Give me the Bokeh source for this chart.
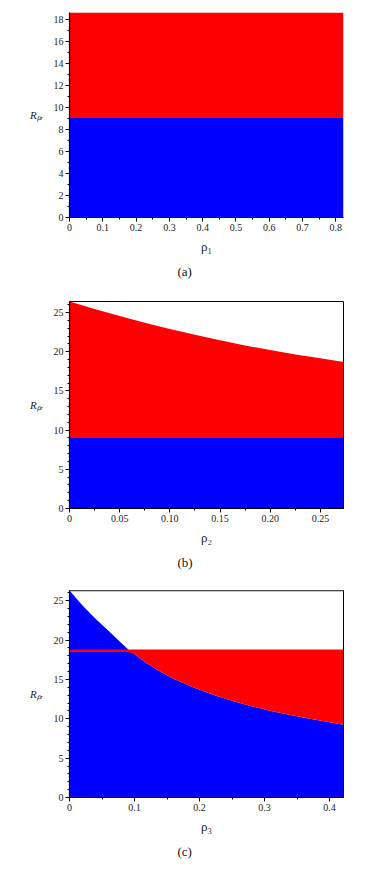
import numpy as np
from bokeh.plotting import figure
from bokeh.models import Range1d, FixedTicker, Span, Title
from bokeh.layouts import column
from bokeh.embed import file_html
from bokeh.resources import INLINE

SERIF = "Liberation Serif"
RED = "#ff0000"
BLUE = "#0000ff"

# ---------------- data ----------------
# panel (a)
a_rho = [0.0, 0.823]
a_blue_top = [9.05, 9.05]
a_red_top = [18.65, 18.65]
a_xticks = [0, 0.1, 0.2, 0.3, 0.4, 0.5, 0.6, 0.7, 0.8]
a_xlabels = ["0", "0.1", "0.2", "0.3", "0.4", "0.5", "0.6", "0.7", "0.8"]
a_yticks = [0, 2, 4, 6, 8, 10, 12, 14, 16, 18]
a_ylabels = ["0", "2", "4", "6", "8", "10", "12", "14", "16", "18"]

# panel (b)
b_rho = [0.0, 0.025, 0.05, 0.075, 0.10, 0.125, 0.15, 0.175, 0.20, 0.225, 0.25, 0.273]
b_red_top = [26.4, 25.45, 24.55, 23.7, 22.9, 22.15, 21.45, 20.8, 20.2, 19.65, 19.15, 18.7]
b_blue_top = [9.1] * len(b_rho)
b_xticks = [0, 0.05, 0.10, 0.15, 0.20, 0.25]
b_xlabels = ["0", "0.05", "0.10", "0.15", "0.20", "0.25"]
b_yticks = [0, 5, 10, 15, 20, 25]
b_ylabels = ["0", "5", "10", "15", "20", "25"]

# panel (c)
c_rho = [0.0, 0.02, 0.04, 0.06, 0.08, 0.09, 0.10, 0.12, 0.14, 0.16, 0.19,
         0.22, 0.25, 0.28, 0.31, 0.34, 0.37, 0.40, 0.421]
c_blue_top = [26.3, 24.4, 22.7, 21.2, 19.6, 18.85, 18.2, 17.0, 15.97, 15.1, 14.0,
              13.1, 12.3, 11.6, 11.0, 10.47, 10.0, 9.55, 9.24]
c_red_top = 18.8
c_red_band_bottom = 18.5
c_xticks = [0, 0.1, 0.2, 0.3, 0.4]
c_xlabels = ["0", "0.1", "0.2", "0.3", "0.4"]
c_yticks = [0, 5, 10, 15, 20, 25]
c_ylabels = ["0", "5", "10", "15", "20", "25"]

y_label = "Rₚᵣ"


def make_panel(xr, yr, xticks, xlabels, xminor, yticks, ylabels, yminor,
               xlab, caption, height, top, bottom, outline):
    p = figure(width=388, height=height, x_range=Range1d(*xr), y_range=Range1d(*yr),
               output_backend="svg", toolbar_location=None,
               min_border_left=69, min_border_right=45,
               min_border_top=top, min_border_bottom=bottom)
    p.grid.visible = False
    p.background_fill_color = "white"
    p.border_fill_color = "white"
    p.outline_line_color = outline
    p.outline_line_width = 1

    p.xaxis.ticker = FixedTicker(ticks=xticks, minor_ticks=xminor)
    p.yaxis.ticker = FixedTicker(ticks=yticks, minor_ticks=yminor)
    p.xaxis.major_label_overrides = {t: l for t, l in zip(xticks, xlabels)}
    p.yaxis.major_label_overrides = {t: l for t, l in zip(yticks, ylabels)}
    for ax in (p.xaxis, p.yaxis):
        ax.axis_line_color = "black"
        ax.axis_line_width = 1.2
        ax.major_tick_line_color = "black"
        ax.minor_tick_line_color = "black"
        ax.major_tick_in = 0
        ax.major_tick_out = 4
        ax.minor_tick_in = 0
        ax.minor_tick_out = 2
        ax.major_label_text_font = SERIF
        ax.major_label_text_font_size = "10px"
        ax.major_label_text_color = "#222222"
        ax.major_label_standoff = 2
    p.xaxis.axis_label = xlab
    p.xaxis.axis_label_text_font = SERIF
    p.xaxis.axis_label_text_font_size = "13px"
    p.xaxis.axis_label_text_font_style = "normal"
    p.xaxis.axis_label_text_color = "#222222"
    p.xaxis.axis_label_standoff = 5

    p.yaxis.axis_label = y_label
    p.yaxis.axis_label_orientation = "horizontal"
    p.yaxis.axis_label_text_font = SERIF
    p.yaxis.axis_label_text_font_size = "11px"
    p.yaxis.axis_label_text_font_style = "italic"
    p.yaxis.axis_label_text_color = "#222222"
    p.yaxis.axis_label_standoff = 7

    p.add_layout(Title(text=caption, text_font=SERIF, text_font_size="13px",
                       text_font_style="normal", text_color="#111111",
                       align="left", offset=108, standoff=11), "below")
    return p


# ---------- panel (a)
pa = make_panel((0, 0.823), (0, 18.65), a_xticks, a_xlabels,
                list(np.arange(0.05, 0.82, 0.1)),
                a_yticks, a_ylabels, list(np.arange(1, 18.6, 2)),
                "ρ₁", "(a)", 290, 12, 73, None)
pa.varea(x=a_rho, y1=a_blue_top, y2=a_red_top, fill_color=RED)
pa.varea(x=a_rho, y1=[0, 0], y2=a_blue_top, fill_color=BLUE)

# ---------- panel (b)
pb = make_panel((0, 0.273), (0, 26.4), b_xticks, b_xlabels,
                list(np.arange(0.025, 0.273, 0.05)),
                b_yticks, b_ylabels, [v for v in range(1, 27) if v % 5],
                "ρ₂", "(b)", 290, 11, 72, "black")
pb.varea(x=b_rho, y1=b_blue_top, y2=b_red_top, fill_color=RED)
pb.varea(x=b_rho, y1=[0] * len(b_rho), y2=b_blue_top, fill_color=BLUE)

# ---------- panel (c)
pc = make_panel((0, 0.4215), (0, 26.3), c_xticks, c_xlabels,
                list(np.arange(0.05, 0.42, 0.1)),
                c_yticks, c_ylabels, [v for v in range(1, 27) if v % 5],
                "ρ₃", "(c)", 288, 10, 71, "black")
cb = np.array(c_blue_top)
pc.varea(x=c_rho, y1=[0] * len(c_rho), y2=c_blue_top, fill_color=BLUE)
pc.varea(x=c_rho, y1=np.minimum(cb, c_red_band_bottom), y2=[c_red_top] * len(c_rho),
         fill_color=RED)
pc.line(x=c_rho, y=[0] * len(c_rho), line_color="#b0104a", line_width=1.5)
pc.add_layout(Span(location=26.3, dimension="width", line_color="#8a8a8a", line_width=2))

layout = column(pa, pb, pc, spacing=0)
open("out.html", "w").write(file_html(layout, INLINE))
